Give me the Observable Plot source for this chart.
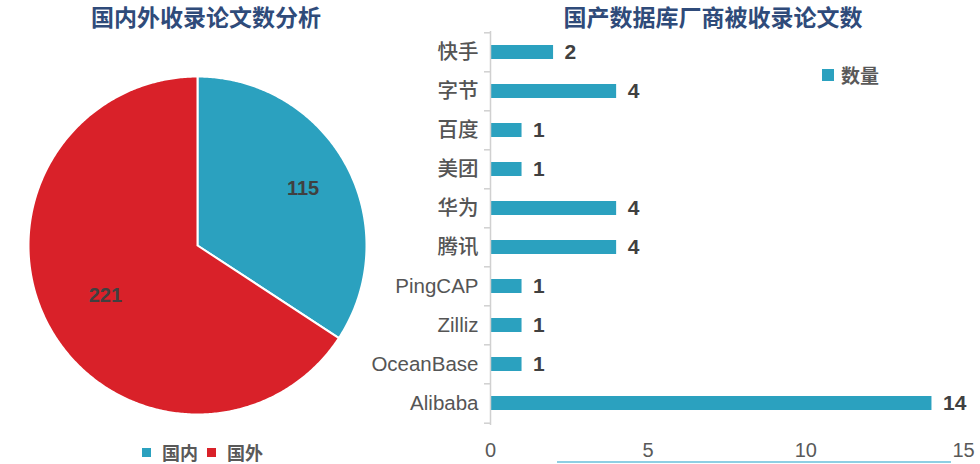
<!DOCTYPE html>
<html>
<head>
<meta charset="utf-8">
<script src="https://cdn.jsdelivr.net/npm/d3@7"></script>
<script src="https://cdn.jsdelivr.net/npm/@observablehq/plot@0.6"></script>
<style>
  html, body { margin: 0; padding: 0; background: #fff; }
  #root { position: relative; width: 980px; height: 464px; overflow: hidden; font-family: "Liberation Sans", "Noto Sans CJK SC", sans-serif; }
  .title { position: absolute; top: 0px; font-family: "Noto Sans CJK SC", sans-serif; font-weight: 700; font-size: 23px; line-height: 32px; color: #2F4B7A; white-space: nowrap; transform: translateX(-50%); }
  .legend { position: absolute; display: flex; align-items: center; font-family: "Noto Sans CJK SC", sans-serif; font-weight: 700; font-size: 18px; line-height: 24px; color: #595959; white-space: nowrap; }
  .legend .sw { display: inline-block; width: 9px; height: 9px; margin-right: 11px; }
  .legend .item { display: inline-flex; align-items: center; margin-right: 9px; }
  .chart { position: absolute; }
  .deco { position: absolute; left: 557px; top: 461px; width: 394px; height: 2px; background: #8ECFE3; }
</style>
</head>
<body>
<div id="root"></div>
<script>
// ---- data ----
const pieLabels = ["国内", "国外"];
const pieValues = [115, 221];
const companies = ["快手", "字节", "百度", "美团", "华为", "腾讯", "PingCAP", "Zilliz", "OceanBase", "Alibaba"];
const counts = [2, 4, 1, 1, 4, 4, 1, 1, 1, 14];
const xTicks = [0, 5, 10, 15];
const leftTitle = "国内外收录论文数分析";
const rightTitle = "国产数据库厂商被收录论文数";
const seriesName = "数量";

// ---- styles ----
const teal = "#2BA1BF";
const red = "#D92129";
const pieColors = [teal, red];

const root = document.getElementById("root");

function addTitle(text, cx) {
  const d = document.createElement("div");
  d.className = "title";
  d.textContent = text;
  d.style.left = cx + "px";
  root.appendChild(d);
}
addTitle(leftTitle, 206);
addTitle(rightTitle, 713);

// ---- pie ----
const pieArcs = d3.pie().sort(null).startAngle(0).endAngle(2 * Math.PI)(pieValues);
const polyPts = [];
const labelPts = [];
const labelR = [0.71, 0.62];
pieArcs.forEach((a, i) => {
  const key = pieLabels[i];
  polyPts.push({key, x: 0, y: 0});
  const n = Math.max(2, Math.ceil((a.endAngle - a.startAngle) / 0.01));
  for (let k = 0; k <= n; k++) {
    const t = a.startAngle + (a.endAngle - a.startAngle) * k / n;
    polyPts.push({key, x: Math.sin(t), y: Math.cos(t)});
  }
  polyPts.push({key, x: 0, y: 0});
  const m = (a.startAngle + a.endAngle) / 2;
  labelPts.push({key, x: labelR[i] * Math.sin(m), y: labelR[i] * Math.cos(m), v: a.data});
});

const R = 169, cx = 197, cy = 245;
const pie = Plot.plot({
  width: 394, height: 464,
  margin: 0,
  x: {domain: [-1, 1], range: [cx - R, cx + R], axis: null},
  y: {domain: [-1, 1], range: [cy + R, cy - R], axis: null},
  color: {domain: pieLabels, range: pieColors},
  marks: [
    Plot.line(polyPts, {x: "x", y: "y", z: "key", fill: "key", stroke: "#fff", strokeWidth: 2, curve: "linear"}),
    Plot.text(labelPts, {x: "x", y: "y", text: "v", fontSize: 20, fontWeight: "bold", fill: "#404040",
      fontFamily: "Liberation Sans, sans-serif"})
  ]
});
pie.classList.add("chart");
pie.style.left = "0px"; pie.style.top = "0px";
root.appendChild(pie);

// pie legend
const pl = document.createElement("div");
pl.className = "legend";
pl.style.left = "142px"; pl.style.top = "440px";
pieLabels.forEach((l, i) => {
  const it = document.createElement("span"); it.className = "item";
  const sw = document.createElement("span"); sw.className = "sw"; sw.style.background = pieColors[i];
  it.appendChild(sw); it.appendChild(document.createTextNode(l));
  pl.appendChild(it);
});
root.appendChild(pl);

// ---- bars ----
const barData = companies.map((c, i) => ({company: c, count: counts[i]}));
const bH = 436, bTop = 3, bBottom = 39;
const step = (bH - bTop - bBottom) / companies.length;
const bars = Plot.plot({
  width: 620, height: bH,
  marginLeft: 130, marginRight: 17, marginTop: bTop, marginBottom: bBottom,
  x: {domain: [0, 15], ticks: xTicks},
  y: {domain: companies, paddingInner: 0.64, paddingOuter: 0.32},
  style: {fontFamily: "Liberation Sans, Noto Sans CJK SC, sans-serif"},
  marks: [
    Plot.barX(barData, {x: "count", y: "company", fill: teal}),
    Plot.text(barData, {x: "count", y: "company", text: "count", dx: 11, textAnchor: "start",
      fontSize: 21, fontWeight: "bold", fill: "#404040"}),
    Plot.ruleX([0], {stroke: "#d0d0d0", strokeWidth: 1.5}),
    Plot.axisY({tickSize: 6, tickFormat: () => "", label: null, dy: -step / 2, stroke: "#d0d0d0", strokeWidth: 1.5}),
    Plot.axisY({ticks: companies.slice(-1), tickSize: 6, tickFormat: () => "", label: null, dy: step / 2, stroke: "#d0d0d0", strokeWidth: 1.5}),
    Plot.axisY({tickSize: 0, tickPadding: 12, fontSize: 20.5, fontWeight: 500, label: null, fill: "#555555"}),
    Plot.axisX({ticks: xTicks, tickSize: 0, tickPadding: 17, fontSize: 20, label: null, fill: "#595959"})
  ]
});
bars.classList.add("chart");
bars.style.left = "360px"; bars.style.top = "28px";
root.appendChild(bars);

// bar legend
const bl = document.createElement("div");
bl.className = "legend";
bl.style.left = "822px"; bl.style.top = "63px";
bl.style.fontSize = "19px";
const bit = document.createElement("span"); bit.className = "item";
const bsw = document.createElement("span"); bsw.className = "sw"; bsw.style.background = teal;
bsw.style.width = "12px"; bsw.style.height = "12px"; bsw.style.marginRight = "7px";
bit.appendChild(bsw); bit.appendChild(document.createTextNode(seriesName));
bl.appendChild(bit);
root.appendChild(bl);

const deco = document.createElement("div");
deco.className = "deco";
root.appendChild(deco);
</script>
</body>
</html>
